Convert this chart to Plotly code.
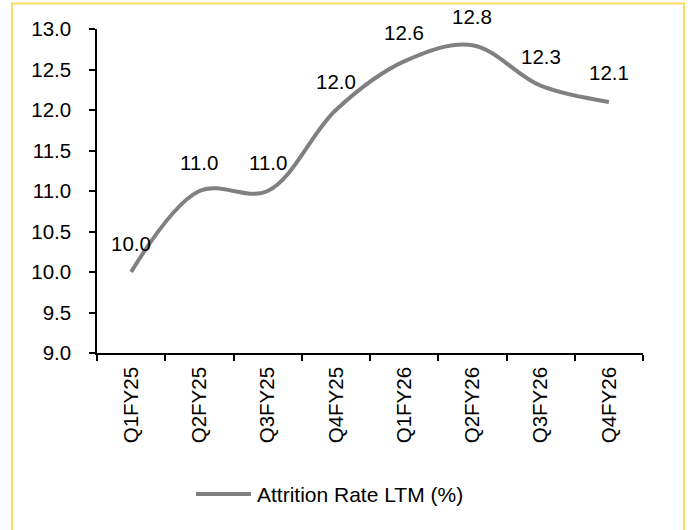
import plotly.graph_objects as go

# Quarterly attrition rate, last twelve months (%)
quarters = ["Q1FY25", "Q2FY25", "Q3FY25", "Q4FY25", "Q1FY26", "Q2FY26", "Q3FY26", "Q4FY26"]
attrition = [10.0, 11.0, 11.0, 12.0, 12.6, 12.8, 12.3, 12.1]
series_name = "Attrition Rate LTM (%)"
y_ticks = [9.0, 9.5, 10.0, 10.5, 11.0, 11.5, 12.0, 12.5, 13.0]

FONT = "Arial, Liberation Sans, sans-serif"
LINE_GREY = "#808080"
FS = 20.5

fig = go.Figure()
fig.add_trace(go.Scatter(
    x=quarters, y=attrition, name=series_name,
    mode="lines", line=dict(color=LINE_GREY, width=4, shape="spline", smoothing=1.0),
    showlegend=False, hoverinfo="x+y",
))

# value labels above each point
for q, v in zip(quarters, attrition):
    fig.add_annotation(x=q, y=v, text=f"{v:.1f}", showarrow=False,
                       yshift=29, font=dict(family=FONT, size=FS, color="black"))

# legend entry drawn below the axis
fig.add_shape(type="line", xref="paper", yref="paper",
              x0=0.1813, x1=0.2821, y0=-0.4352, y1=-0.4352,
              line=dict(color=LINE_GREY, width=4))
fig.add_annotation(xref="paper", yref="paper", x=0.2894, y=-0.4352,
                   xanchor="left", yanchor="middle", showarrow=False,
                   text=series_name, font=dict(family=FONT, size=21, color="black"))

# outer frame
fig.add_shape(type="rect", xref="paper", yref="paper",
              x0=-0.1557, x1=1.0751, y0=-0.62, y1=1.0787,
              line=dict(color="#FFD966", width=2), layer="below")

fig.update_layout(
    width=690, height=530,
    margin=dict(l=97, r=47, t=29, b=177),
    paper_bgcolor="white", plot_bgcolor="white",
    font=dict(family=FONT, size=FS, color="black"),
    showlegend=False,
)
fig.update_xaxes(
    type="category", range=[-0.5, len(quarters) - 0.5],
    tickangle=-90, tickson="boundaries",
    ticks="outside", ticklen=6, tickwidth=1.5, tickcolor="black",
    showline=True, linecolor="black", linewidth=1.5, showgrid=False,
    tickfont=dict(family=FONT, size=FS), ticklabelstandoff=4,
)
fig.update_yaxes(
    range=[9, 13], tickvals=y_ticks, tickformat=".1f",
    ticks="outside", ticklen=6, tickwidth=1.5, tickcolor="black",
    showline=True, linecolor="black", linewidth=1.5, showgrid=False, zeroline=False,
    tickfont=dict(family=FONT, size=FS), ticklabelstandoff=14,
)

fig.write_html("out.html")
